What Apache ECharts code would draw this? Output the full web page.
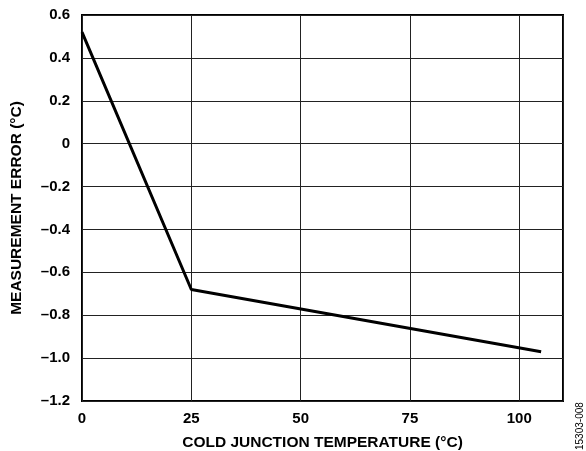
<!DOCTYPE html>
<html><head><meta charset="utf-8">
<script src="https://cdn.jsdelivr.net/npm/echarts@6/dist/echarts.min.js"></script>
<style>html,body{margin:0;padding:0;background:#fff}#c{width:586px;height:451px}</style>
</head><body><div id="c"></div>
<script>
const temps = [0, 25, 105];
const errors = [0.52, -0.68, -0.97];
const xTitle = 'COLD JUNCTION TEMPERATURE (°C)';
const yTitle = 'MEASUREMENT ERROR (°C)';
const figId = '15303-008';

const chart = echarts.init(document.getElementById('c'), null, {renderer: 'canvas'});
const font = 'Liberation Sans, Arial, sans-serif';
chart.setOption({
  animation: false,
  backgroundColor: '#fff',
  grid: {left: 82, top: 15, right: 23, bottom: 50, outerBoundsMode: 'none', containLabel: false,
    show: true, borderColor: '#000', borderWidth: 2, backgroundColor: 'transparent'},
  xAxis: {
    type: 'value', min: 0, max: 110, interval: 25,
    axisLine: {show: false}, axisTick: {show: false},
    splitLine: {show: true, lineStyle: {color: '#222', width: 1}},
    axisLabel: {color: '#000', fontFamily: font, fontWeight: 'bold', fontSize: 15, margin: 10,
      formatter: v => (v % 25 === 0 && v <= 100) ? String(v) : ''},
    name: xTitle, nameLocation: 'middle', nameGap: 34,
    nameTextStyle: {color: '#000', fontFamily: font, fontWeight: 'bold', fontSize: 15.5}
  },
  yAxis: {
    type: 'value', min: -1.2, max: 0.6, interval: 0.2,
    axisLine: {show: false}, axisTick: {show: false},
    splitLine: {show: true, lineStyle: {color: '#222', width: 1}},
    axisLabel: {color: '#000', fontFamily: font, fontWeight: 'bold', fontSize: 15, margin: 12,
      formatter: v => { const r = Math.round(v * 10) / 10; if (r === 0) return '0'; return (r < 0 ? '\u2013' : '') + Math.abs(r).toFixed(1); }},
    name: yTitle, nameLocation: 'middle', nameGap: 57, nameRotate: 90,
    nameTextStyle: {color: '#000', fontFamily: font, fontWeight: 'bold', fontSize: 15.5}
  },
  graphic: [{
    type: 'text', x: 575, y: 450, rotation: Math.PI / 2,
    style: {text: figId, fill: '#000', font: '10px ' + font, textAlign: 'left', textVerticalAlign: 'top'}
  }],
  series: [{
    type: 'line', data: temps.map((t, i) => [t, errors[i]]),
    symbol: 'none', lineStyle: {color: '#000', width: 3}, z: 5
  }]
});
</script></body></html>
